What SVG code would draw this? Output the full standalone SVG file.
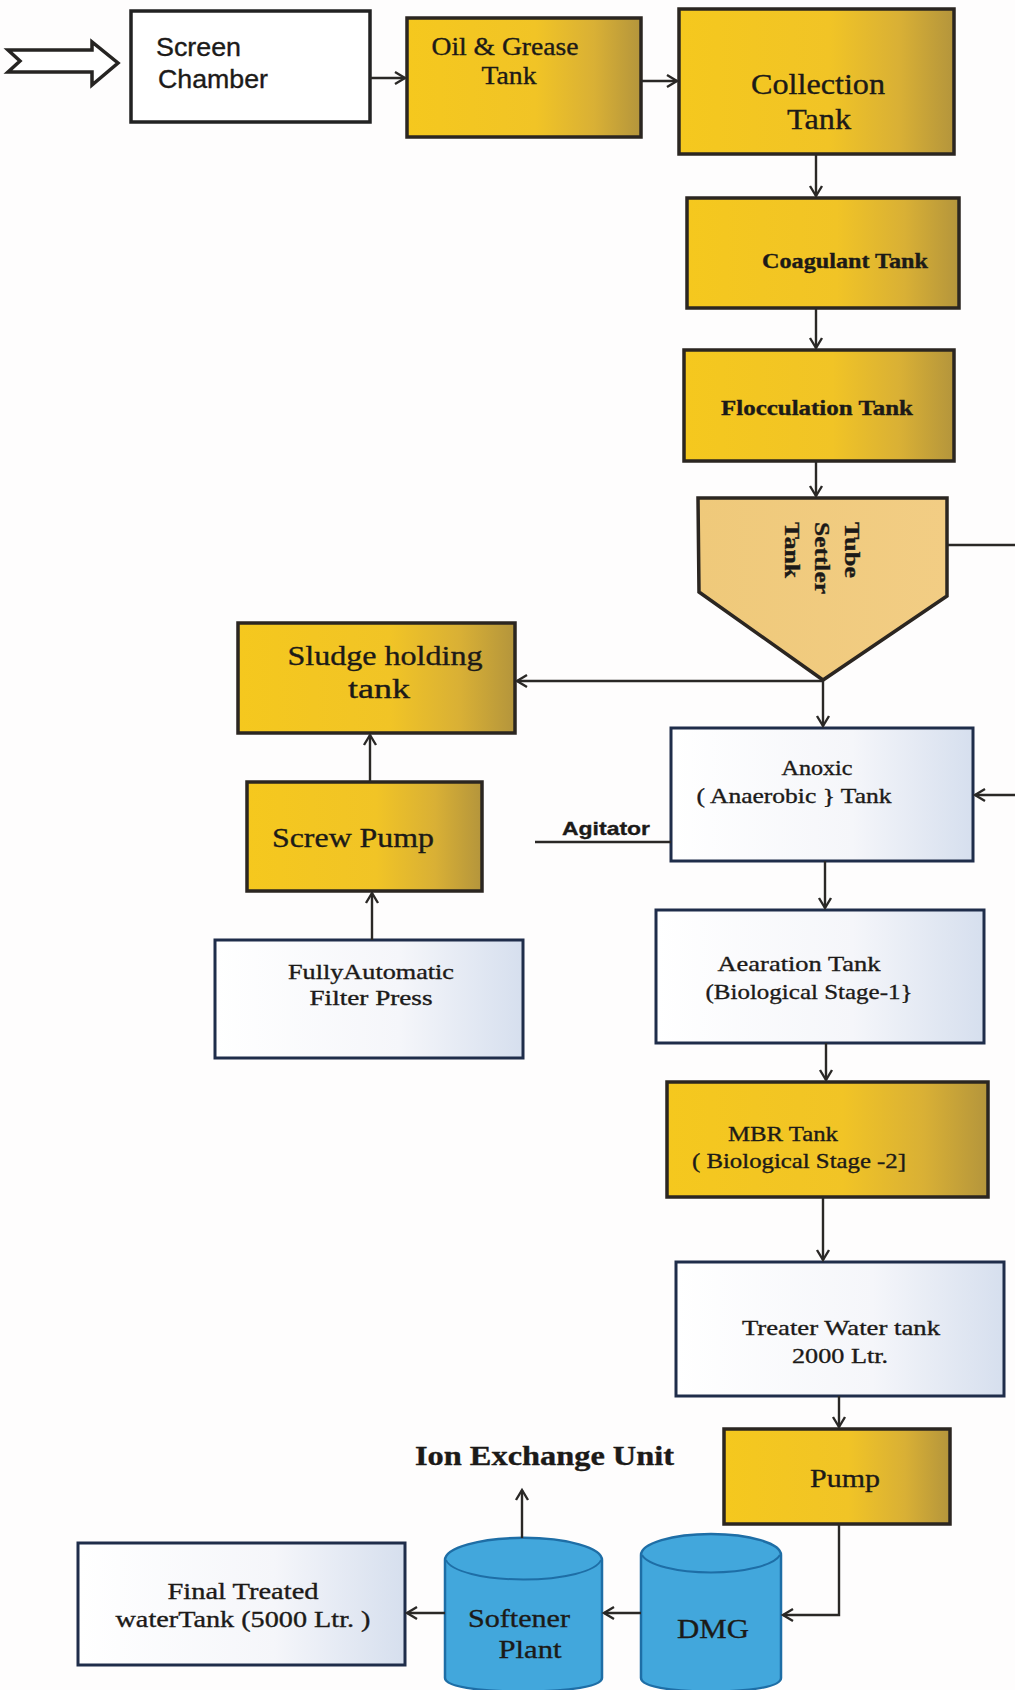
<svg xmlns="http://www.w3.org/2000/svg" width="1015" height="1690" viewBox="0 0 1015 1690">
<defs>
<linearGradient id="gold" x1="0" y1="0" x2="1" y2="0">
<stop offset="0" stop-color="#F5C81E"/>
<stop offset="0.55" stop-color="#F1C426"/>
<stop offset="0.8" stop-color="#D9B035"/>
<stop offset="1" stop-color="#B4953C"/>
</linearGradient>
<linearGradient id="pale" x1="0" y1="0" x2="1" y2="0">
<stop offset="0" stop-color="#FFFFFF"/>
<stop offset="0.6" stop-color="#F5F6FA"/>
<stop offset="1" stop-color="#D6DFEE"/>
</linearGradient>
<linearGradient id="tan" x1="0" y1="0" x2="1" y2="0">
<stop offset="0" stop-color="#EFC97A"/>
<stop offset="1" stop-color="#F2CD84"/>
</linearGradient>
<marker id="arr" markerUnits="userSpaceOnUse" markerWidth="16" markerHeight="16" refX="12" refY="8" orient="auto">
<path d="M2,2 L12,8 L2,14" fill="none" stroke="#2a2826" stroke-width="2.4"/>
</marker>
</defs>
<style>
.gold{fill:url(#gold);stroke:#2b2621;stroke-width:3.5}
.pale{fill:url(#pale);stroke:#1f2d4a;stroke-width:3}
.white{fill:#ffffff;stroke:#222222;stroke-width:3.5}
.cyl{fill:#42A7DC;stroke:#1E6EA6;stroke-width:2.5}
.con{fill:none;stroke:#2a2826;stroke-width:2.4}
.ca{marker-end:url(#arr)}
text{fill:#1c1a18;stroke:#1c1a18;stroke-width:0.35}
.serif{font-family:"Liberation Serif","DejaVu Serif",serif}
.sans{font-family:"Liberation Sans","DejaVu Sans",sans-serif}
.b{font-weight:bold}
.m{text-anchor:middle}
</style>
<rect width="1015" height="1690" fill="#FEFDFD"/>

<g id="input-arrow">
<polygon points="8,50 92,50 92,42 118,63 92,85 92,72 8,72 20,61" fill="#ffffff" stroke="#262422" stroke-width="3.5" stroke-linejoin="miter"/>
</g>

<g id="screen-chamber">
<rect class="white" x="131" y="11" width="239" height="111"/>
<text class="sans" x="156" y="56" font-size="25" textLength="85" lengthAdjust="spacingAndGlyphs">Screen</text>
<text class="sans" x="158" y="88" font-size="25" textLength="110" lengthAdjust="spacingAndGlyphs">Chamber</text>
</g>

<g id="oil-grease-tank">
<rect class="gold" x="407" y="18" width="234" height="119"/>
<text class="serif m" x="505" y="55" font-size="25" textLength="147" lengthAdjust="spacingAndGlyphs">Oil &amp; Grease</text>
<text class="serif m" x="509" y="84" font-size="25" textLength="55" lengthAdjust="spacingAndGlyphs">Tank</text>
</g>

<g id="collection-tank">
<rect class="gold" x="679" y="9" width="275" height="145"/>
<text class="serif m" x="818" y="94" font-size="29" textLength="134" lengthAdjust="spacingAndGlyphs">Collection</text>
<text class="serif m" x="819" y="129" font-size="29" textLength="64" lengthAdjust="spacingAndGlyphs">Tank</text>
</g>

<g id="coagulant-tank">
<rect class="gold" x="687" y="198" width="272" height="110"/>
<text class="serif b m" x="845" y="268" font-size="21" textLength="166" lengthAdjust="spacingAndGlyphs">Coagulant Tank</text>
</g>

<g id="flocculation-tank">
<rect class="gold" x="684" y="350" width="270" height="111"/>
<text class="serif b m" x="817" y="415" font-size="21" textLength="192" lengthAdjust="spacingAndGlyphs">Flocculation Tank</text>
</g>

<g id="tube-settler-tank">
<polygon points="698,498 947,498 947,596 823,680 699,592" fill="url(#tan)" stroke="#2b2621" stroke-width="3.5" stroke-linejoin="miter"/>
<g class="serif b" font-size="21">
<text transform="translate(845,522) rotate(90)" textLength="56" lengthAdjust="spacingAndGlyphs">Tube</text>
<text transform="translate(815,522) rotate(90)" textLength="72" lengthAdjust="spacingAndGlyphs">Settler</text>
<text transform="translate(785,522) rotate(90)" textLength="56" lengthAdjust="spacingAndGlyphs">Tank</text>
</g>
</g>

<g id="sludge-holding-tank">
<rect class="gold" x="238" y="623" width="277" height="110"/>
<text class="serif m" x="385" y="665" font-size="27" textLength="195" lengthAdjust="spacingAndGlyphs">Sludge holding</text>
<text class="serif m" x="379" y="698" font-size="27" textLength="62" lengthAdjust="spacingAndGlyphs">tank</text>
</g>

<g id="screw-pump">
<rect class="gold" x="247" y="782" width="235" height="109"/>
<text class="serif m" x="353" y="847" font-size="27" textLength="162" lengthAdjust="spacingAndGlyphs">Screw Pump</text>
</g>

<g id="filter-press">
<rect class="pale" x="215" y="940" width="308" height="118"/>
<text class="serif m" x="371" y="979" font-size="21" textLength="166" lengthAdjust="spacingAndGlyphs">FullyAutomatic</text>
<text class="serif m" x="371" y="1005" font-size="21" textLength="123" lengthAdjust="spacingAndGlyphs">Filter Press</text>
</g>

<g id="agitator">
<text class="sans b" x="562" y="835" font-size="19" textLength="88" lengthAdjust="spacingAndGlyphs">Agitator</text>
</g>

<g id="anoxic-tank">
<rect class="pale" x="671" y="728" width="302" height="133"/>
<text class="serif m" x="817" y="775" font-size="21" textLength="71" lengthAdjust="spacingAndGlyphs">Anoxic</text>
<text class="serif m" x="794" y="803" font-size="21" textLength="195" lengthAdjust="spacingAndGlyphs">( Anaerobic } Tank</text>
</g>

<g id="aeration-tank">
<rect class="pale" x="656" y="910" width="328" height="133"/>
<text class="serif m" x="799" y="971" font-size="22" textLength="163" lengthAdjust="spacingAndGlyphs">Aearation Tank</text>
<text class="serif m" x="809" y="999" font-size="22" textLength="207" lengthAdjust="spacingAndGlyphs">(Biological Stage-1}</text>
</g>

<g id="mbr-tank">
<rect class="gold" x="667" y="1082" width="321" height="115"/>
<text class="serif m" x="783" y="1141" font-size="21" textLength="110" lengthAdjust="spacingAndGlyphs">MBR Tank</text>
<text class="serif m" x="799" y="1168" font-size="21" textLength="214" lengthAdjust="spacingAndGlyphs">( Biological Stage -2]</text>
</g>

<g id="treated-water-tank">
<rect class="pale" x="676" y="1262" width="328" height="134"/>
<text class="serif m" x="841" y="1335" font-size="22" textLength="198" lengthAdjust="spacingAndGlyphs">Treater Water tank</text>
<text class="serif m" x="840" y="1363" font-size="22" textLength="96" lengthAdjust="spacingAndGlyphs">2000 Ltr.</text>
</g>

<g id="pump">
<rect class="gold" x="724" y="1429" width="226" height="95"/>
<text class="serif m" x="845" y="1487" font-size="26" textLength="70" lengthAdjust="spacingAndGlyphs">Pump</text>
</g>

<g id="ion-exchange-unit">
<text class="serif b" x="415" y="1465" font-size="27" textLength="259" lengthAdjust="spacingAndGlyphs">Ion Exchange Unit</text>
</g>

<g id="softener-plant">
<path class="cyl" d="M445,1560 A78,22 0 0 1 602,1560 L602,1678 Q602,1690 523,1692 Q445,1690 445,1678 Z"/>
<path d="M446,1560 A78,22 0 0 0 601,1560" fill="none" stroke="#1E6EA6" stroke-width="2"/>
<text class="serif m" x="519" y="1627" font-size="26" textLength="102" lengthAdjust="spacingAndGlyphs">Softener</text>
<text class="serif m" x="530" y="1658" font-size="26" textLength="63" lengthAdjust="spacingAndGlyphs">Plant</text>
</g>

<g id="dmg">
<path class="cyl" d="M641,1555 A70,21 0 0 1 781,1555 L781,1678 Q781,1690 711,1692 Q641,1690 641,1678 Z"/>
<path d="M642,1555 A70,21 0 0 0 780,1555" fill="none" stroke="#1E6EA6" stroke-width="2"/>
<text class="serif m" x="713" y="1638" font-size="28" textLength="72" lengthAdjust="spacingAndGlyphs">DMG</text>
</g>

<g id="final-treated-water-tank">
<rect class="pale" x="78" y="1543" width="327" height="122"/>
<text class="serif m" x="243" y="1599" font-size="23" textLength="151" lengthAdjust="spacingAndGlyphs">Final Treated</text>
<text class="serif m" x="243" y="1627" font-size="23" textLength="255" lengthAdjust="spacingAndGlyphs">waterTank (5000 Ltr. )</text>
</g>

<g id="connectors">
<path class="con ca" d="M370,78 L405,78"/>
<path class="con ca" d="M641,81 L677,81"/>
<path class="con ca" d="M816,154 L816,196"/>
<path class="con ca" d="M816,308 L816,348"/>
<path class="con ca" d="M816,461 L816,496"/>
<path class="con" d="M947,545 L1015,545"/>
<path class="con ca" d="M823,681 L517,681"/>
<path class="con ca" d="M823,681 L823,726"/>
<path class="con ca" d="M1015,795 L975,795"/>
<path class="con" d="M535,842 L671,842"/>
<path class="con ca" d="M370,782 L370,735"/>
<path class="con ca" d="M372,940 L372,893"/>
<path class="con ca" d="M825,861 L825,908"/>
<path class="con ca" d="M826,1043 L826,1080"/>
<path class="con ca" d="M823,1197 L823,1260"/>
<path class="con ca" d="M839,1396 L839,1427"/>
<path class="con ca" d="M839,1524 L839,1615 L783,1615"/>
<path class="con ca" d="M641,1613 L604,1613"/>
<path class="con ca" d="M445,1613 L407,1613"/>
<path class="con ca" d="M522,1538 L522,1490"/>
</g>
</svg>
